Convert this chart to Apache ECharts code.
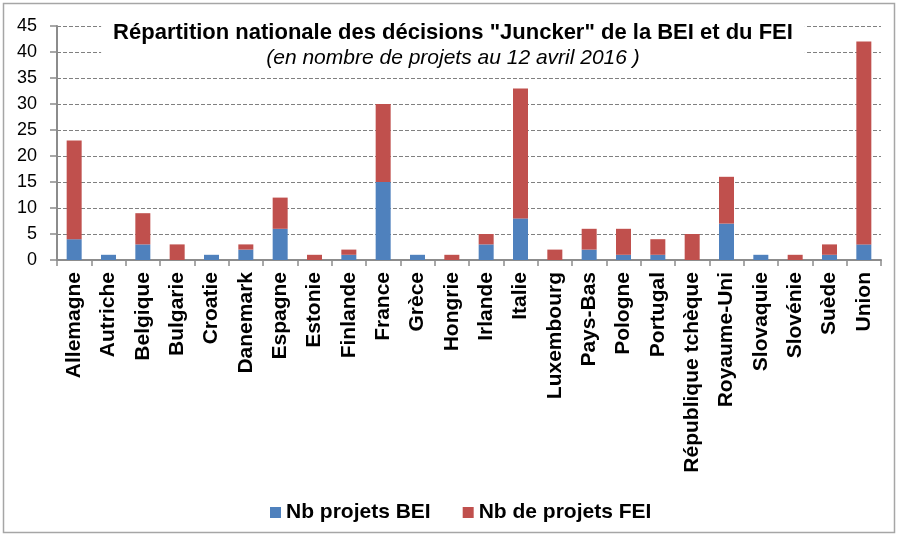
<!DOCTYPE html>
<html>
<head>
<meta charset="utf-8">
<script src="https://cdn.jsdelivr.net/npm/echarts@6/dist/echarts.min.js"></script>
<style>
html,body{margin:0;padding:0;background:#fff;}
#chart{width:897px;height:536px;}
</style>
</head>
<body>
<div id="chart"></div>
<script>
const categories = ["Allemagne","Autriche","Belgique","Bulgarie","Croatie","Danemark","Espagne","Estonie","Finlande","France","Grèce","Hongrie","Irlande","Italie","Luxembourg","Pays-Bas","Pologne","Portugal","République tchèque","Royaume-Uni","Slovaquie","Slovénie","Suède","Union"];
const beiProjects = [4,1,3,0,1,2,6,0,1,15,1,0,3,8,0,2,1,1,0,7,1,0,1,3];
const feiProjects = [19,0,6,3,0,1,6,1,1,15,0,1,2,25,2,4,5,3,5,9,0,1,2,39];
const yTicks = {min:0, max:45, interval:5};
const seriesNames = ["Nb projets BEI","Nb de projets FEI"];
const titleText = 'Répartition nationale des décisions "Juncker" de la BEI et du FEI';
const subtitleText = '(en nombre de projets au 12 avril 2016 )';

const FONT = "'Liberation Sans', Arial, sans-serif";
const chart = echarts.init(document.getElementById('chart'), null, {renderer:'canvas'});
chart.setOption({
  animation:false,
  backgroundColor:'#fff',
  graphic:[{
    type:'rect', z:100, silent:true,
    shape:{x:3.5,y:3.5,width:891,height:529},
    style:{fill:'none',stroke:'#a6a6a6',lineWidth:1.5}
  }],
  title:{
    text:titleText,
    subtext:subtitleText,
    left:441, top:12,
    textAlign:'center',
    itemGap:4,
    padding:[10,12,4,12],
    backgroundColor:'#fff',
    textStyle:{fontFamily:FONT,fontSize:22,fontWeight:'bold',color:'#000'},
    subtextStyle:{fontFamily:FONT,fontSize:21,fontStyle:'italic',color:'#000'}
  },
  legend:{
    data:seriesNames,
    left:265, top:497,
    itemWidth:11, itemHeight:11, itemGap:32,
    icon:'rect',
    textStyle:{fontFamily:FONT,fontSize:21,fontWeight:'bold',color:'#000'}
  },
  grid:{left:57,right:16,top:26,bottom:276,containLabel:false},
  xAxis:{
    type:'category',
    data:categories,
    boundaryGap:true,
    axisLine:{lineStyle:{color:'#8c8c8c',width:2}},
    axisTick:{show:true,length:6,alignWithLabel:false,lineStyle:{color:'#8c8c8c',width:1.5}},
    axisLabel:{rotate:90,interval:0,margin:12,fontFamily:FONT,fontSize:21,fontWeight:'bold',color:'#000'}
  },
  yAxis:{
    type:'value',
    min:yTicks.min,max:yTicks.max,interval:yTicks.interval,
    axisLine:{show:true,lineStyle:{color:'#8c8c8c',width:2}},
    axisTick:{show:true,length:7,lineStyle:{color:'#8c8c8c',width:1.5}},
    axisLabel:{margin:20,fontFamily:FONT,fontSize:18,color:'#000'},
    splitLine:{show:true,lineStyle:{color:'#808080',width:1,type:[4,2]}}
  },
  series:[
    {name:seriesNames[0],type:'bar',stack:'total',data:beiProjects,barWidth:15,
     itemStyle:{color:'#4F81BD'}},
    {name:seriesNames[1],type:'bar',stack:'total',data:feiProjects,barWidth:15,
     itemStyle:{color:'#C0504D'}}
  ]
});
</script>
</body>
</html>
